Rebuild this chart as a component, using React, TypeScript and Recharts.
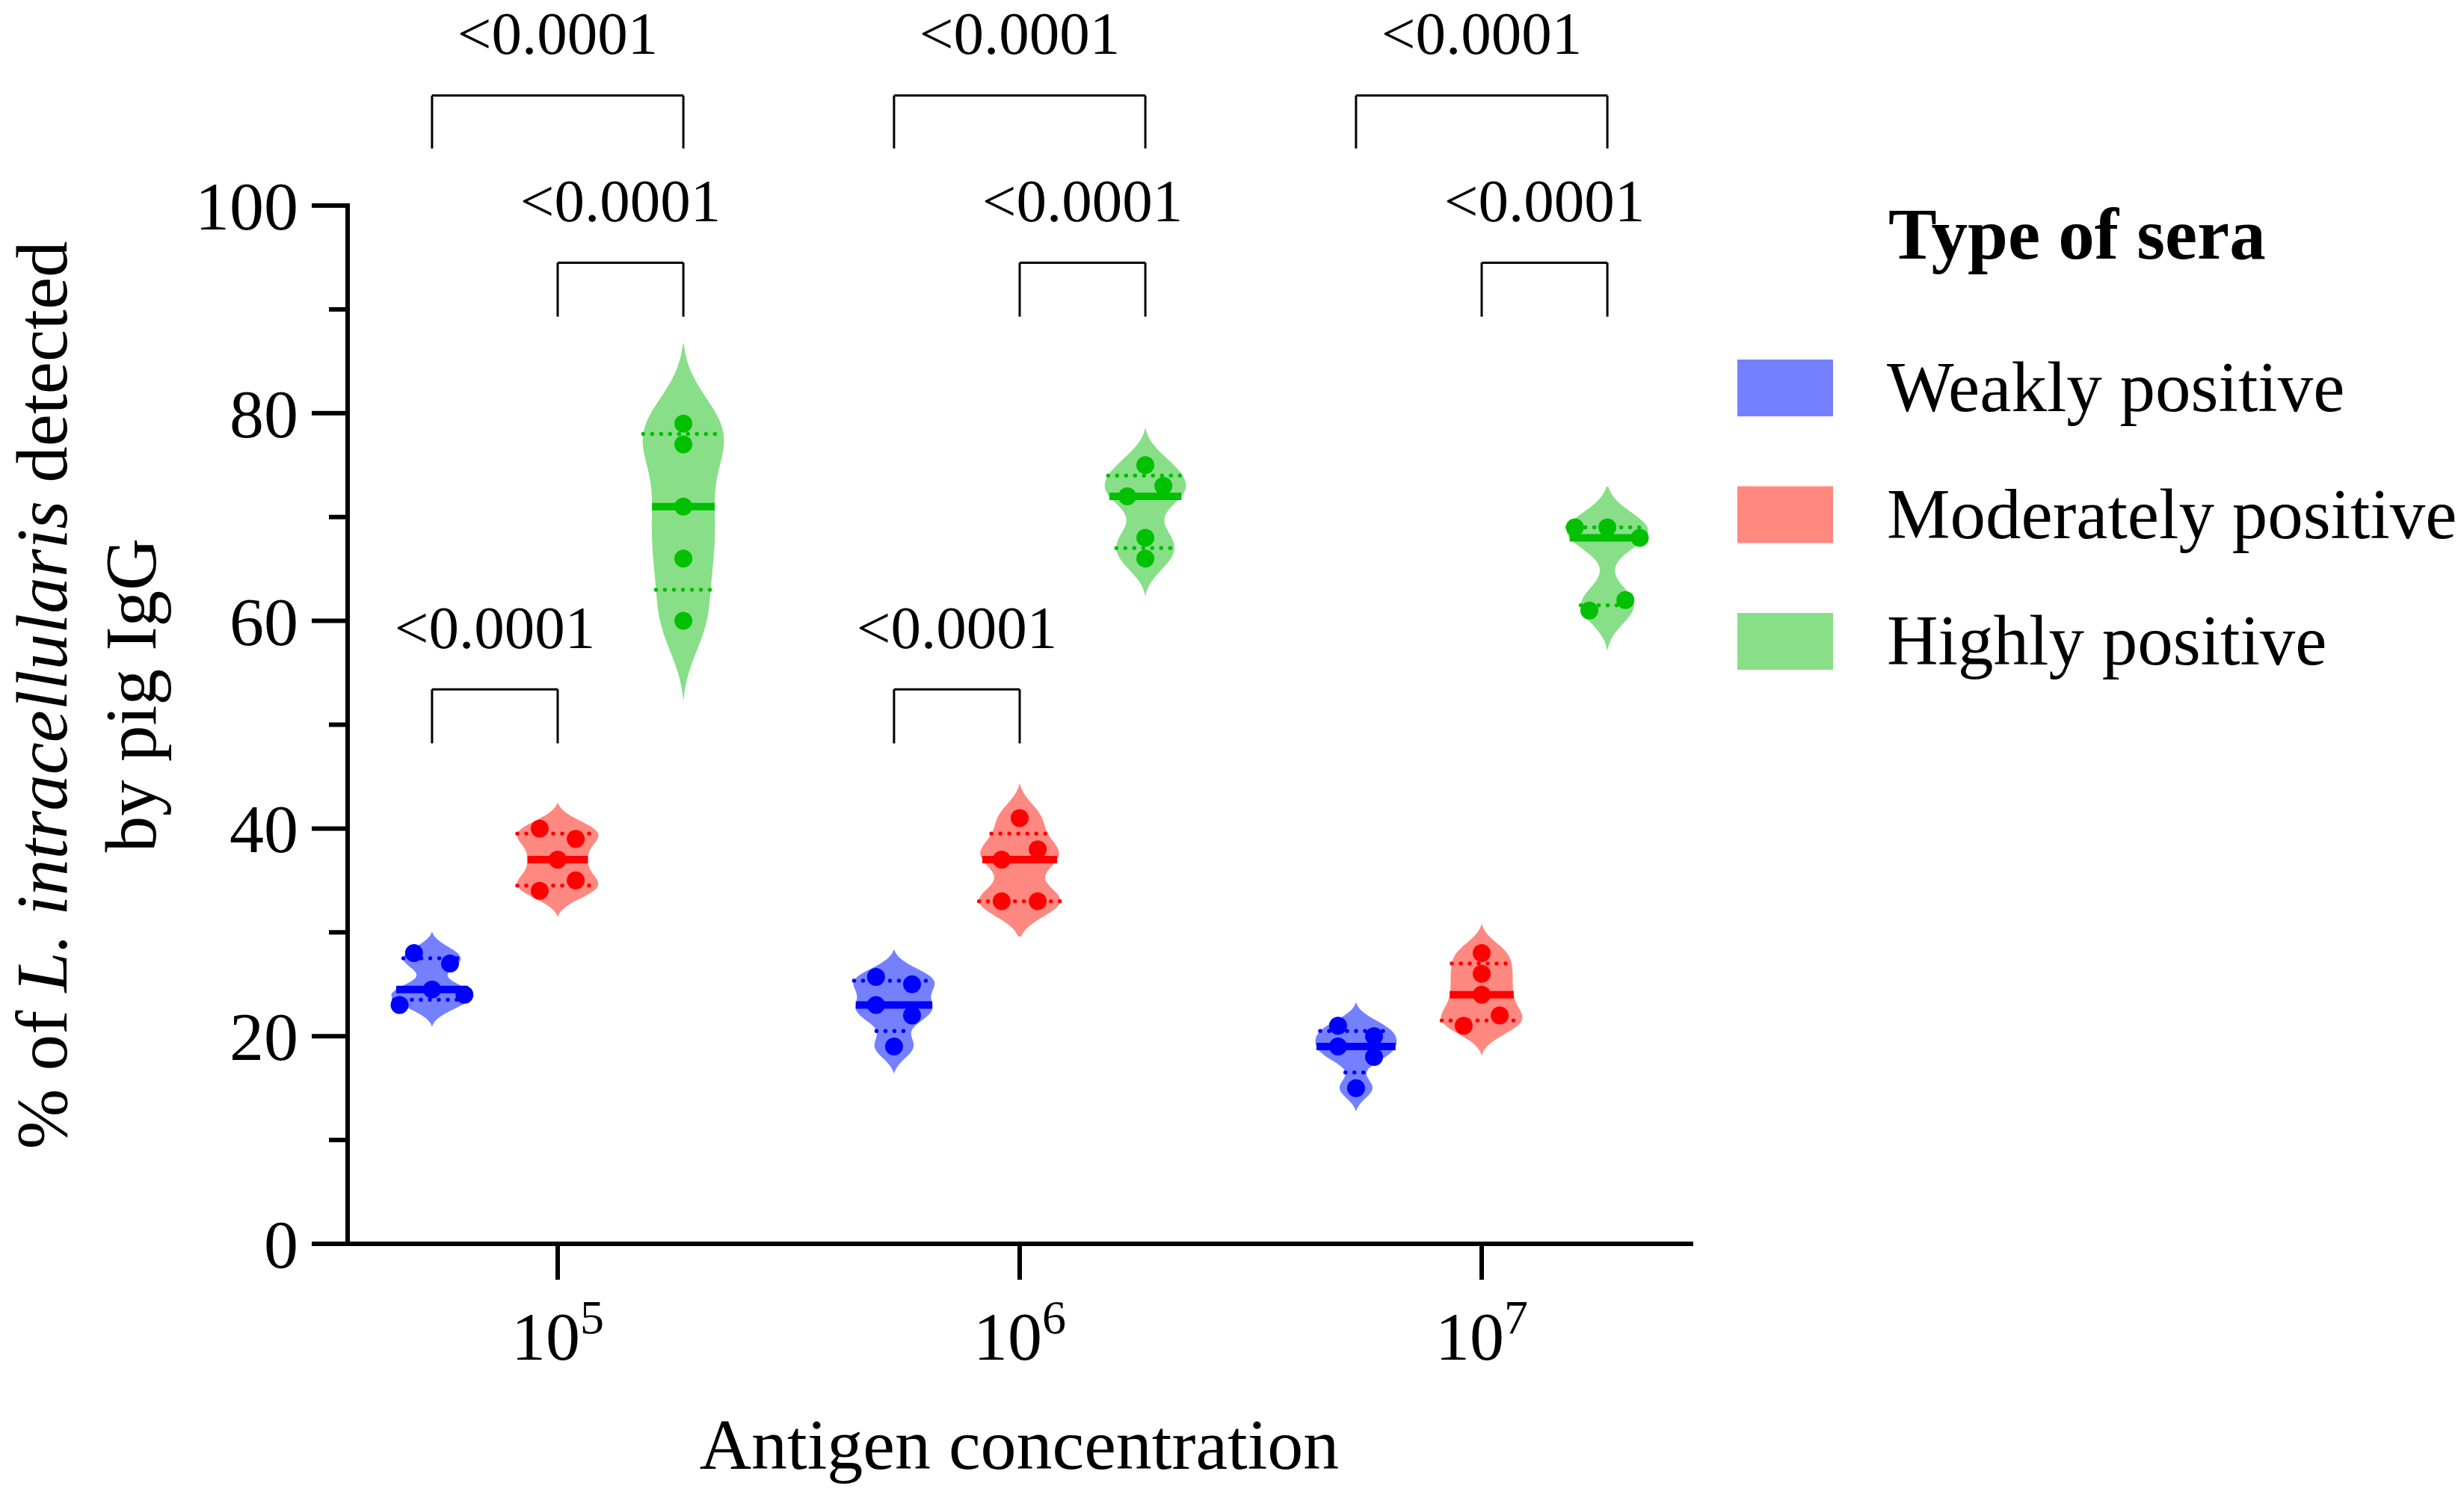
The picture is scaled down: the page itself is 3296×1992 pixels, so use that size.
import React from 'react'
import { ComposedChart, Scatter, XAxis, YAxis, ReferenceLine, ReferenceDot, Legend } from 'recharts'

// ---- data ----
const concentrationExponents = ['5', '6', '7']
const seraTypes = ['Weakly positive', 'Moderately positive', 'Highly positive']

// % detected per serum, one row per antigen concentration (10^5, 10^6, 10^7)
const weaklyPositive = [
  [28, 27, 24.5, 23, 24],
  [25.7, 25, 23, 22, 19],
  [21, 20, 19, 18, 15],
]
const moderatelyPositive = [
  [40, 39, 37, 34, 35],
  [41, 37, 38, 33, 33],
  [28, 26, 24, 21, 22],
]
const highlyPositive = [
  [79, 77, 71, 66, 60],
  [75, 72, 73, 68, 66],
  [69, 69, 68, 61, 62],
]

// multiple comparisons: concentration index, sera pair, p value
const comparisons = [
  { conc: 0, a: 0, b: 2, p: '<0.0001' },
  { conc: 0, a: 1, b: 2, p: '<0.0001' },
  { conc: 0, a: 0, b: 1, p: '<0.0001' },
  { conc: 1, a: 0, b: 2, p: '<0.0001' },
  { conc: 1, a: 1, b: 2, p: '<0.0001' },
  { conc: 1, a: 0, b: 1, p: '<0.0001' },
  { conc: 2, a: 0, b: 2, p: '<0.0001' },
  { conc: 2, a: 1, b: 2, p: '<0.0001' },
]

const yTicks = [0, 10, 20, 30, 40, 50, 60, 70, 80, 90, 100]

// ---- styling / layout ----
const seraValues = [weaklyPositive, moderatelyPositive, highlyPositive]
const dotColors = ['#0000ff', '#ff0000', '#00c000']
const violinColors = ['#7580ff', '#ff8880', '#88df88']

const FONT = '"Liberation Serif", "Times New Roman", Times, serif'
const CHART_W = 3296
const CHART_H = 1992
const PLOT_TOP = 275
const PLOT_BOTTOM = 1664
const PLOT_LEFT = 465
const PLOT_RIGHT = 2262
const XAXIS_H = 200

const GROUP_OFFSET = 0.272
const VIOLIN_HALF = 0.088
const JITTER = 0.039
const DOT_R = 12

// bracket heights in axis units, keyed by sera pair
const bracketLevels: Record<string, { bottom: number; top: number }> = {
  '0-2': { bottom: 105.5, top: 110.6 },
  '1-2': { bottom: 89.3, top: 94.5 },
  '0-1': { bottom: 48.2, top: 53.4 },
}
const LABEL_GAP = 4.0

// ---- stats helpers ----
const quantile = (vals: number[], p: number) => {
  const s = [...vals].sort((a, b) => a - b)
  const n = s.length
  const pos = Math.min(n - 1, Math.max(0, (n + 1) * p - 1))
  const lo = Math.floor(pos)
  const hi = Math.ceil(pos)
  return s[lo] + (s[hi] - s[lo]) * (pos - lo)
}

const makeViolin = (vals: number[]) => {
  const n = vals.length
  const mean = vals.reduce((a, v) => a + v, 0) / n
  const sd = Math.sqrt(vals.reduce((a, v) => a + (v - mean) ** 2, 0) / (n - 1))
  const h = 0.43 * sd
  const lo = Math.min(...vals) - 2.3 * h
  const hi = Math.max(...vals) + 2.3 * h
  const dens = (y: number) => vals.reduce((a, v) => a + Math.exp(-((y - v) ** 2) / (2 * h * h)), 0)
  const edge = Math.min(dens(lo), dens(hi))
  const steps = 120
  const ys = Array.from({ length: steps + 1 }, (_, i) => lo + ((hi - lo) * i) / steps)
  const ds = ys.map((y) => Math.max(0, dens(y) - edge))
  const dmax = Math.max(...ds)
  const halfWidth = (y: number) => (VIOLIN_HALF * Math.max(0, dens(y) - edge)) / dmax
  return { ys, halfWidth }
}

// spread overlapping points sideways, like a column scatter
const swarmOffsets = (vals: number[]) => {
  const order = vals.map((_, i) => i).sort((a, b) => vals[b] - vals[a])
  const groups: number[][] = []
  order.forEach((idx, k) => {
    if (k > 0 && vals[order[k - 1]] - vals[idx] < 1.8) groups[groups.length - 1].push(idx)
    else groups.push([idx])
  })
  const offsets = new Array(vals.length).fill(0)
  groups.forEach((g) => {
    const members = [...g].sort((a, b) => a - b)
    if (members.length % 2 === 1) {
      members.forEach((idx, j) => {
        if (j === 0) offsets[idx] = 0
        else offsets[idx] = (j % 2 === 1 ? -1 : 1) * Math.ceil(j / 2) * JITTER * 1.8
      })
    } else {
      members.forEach((idx, j) => {
        offsets[idx] = (j % 2 === 0 ? -1 : 1) * JITTER
      })
    }
  })
  return offsets
}

const groupX = (conc: number, sera: number) => conc + 1 + (sera - 1) * GROUP_OFFSET

const renderNothing = () => <g />

// ---- axis ticks / labels ----
const YTick = (props: any) => {
  const { x, y, payload } = props
  const major = payload.value % 20 === 0
  return (
    <g>
      <line x1={x - (major ? 48 : 25)} x2={x} y1={y} y2={y} stroke="#000" strokeWidth={6} />
      {major && (
        <text x={x - 66} y={y + 32} textAnchor="end" fontFamily={FONT} fontSize={92} fill="#000">
          {payload.value}
        </text>
      )}
    </g>
  )
}

const XTick = (props: any) => {
  const { x, y, payload } = props
  const exp = concentrationExponents[Math.round(payload.value) - 1]
  return (
    <text x={x} y={y + 107} textAnchor="middle" fontFamily={FONT} fill="#000">
      <tspan fontSize={92}>10</tspan>
      <tspan fontSize={64} dy={-35}>{exp}</tspan>
    </text>
  )
}

const YLabel = () => {
  const cy = 930
  return (
    <g fontFamily={FONT} fontSize={97} fill="#000">
      <text x={89} y={cy} textAnchor="middle" transform={`rotate(-90, 89, ${cy})`}>
        <tspan>% of </tspan>
        <tspan fontStyle="italic">L. intracellularis</tspan>
        <tspan> detected</tspan>
      </text>
      <text x={208} y={cy} textAnchor="middle" transform={`rotate(-90, 208, ${cy})`}>
        by pig IgG
      </text>
    </g>
  )
}

const XLabel = () => (
  <text x={(PLOT_LEFT + PLOT_RIGHT) / 2} y={1965} textAnchor="middle" fontFamily={FONT} fontSize={96} fill="#000">
    Antigen concentration
  </text>
)

const LEGEND_LEFT = 2290
const LEGEND_TOP = 240

const SeraLegend = () => (
  <svg width={CHART_W - LEGEND_LEFT} height={700} style={{ display: 'block', overflow: 'hidden' }}>
    <text x={236} y={106} fontFamily={FONT} fontSize={97} fontWeight="bold" fill="#000">
      Type of sera
    </text>
    {seraTypes.map((name, i) => (
      <g key={name}>
        <rect x={34} y={241 + i * 169.5} width={128} height={76} fill={violinColors[i]} />
        <text x={234} y={310 + i * 169.5} fontFamily={FONT} fontSize={95} fill="#000">
          {name}
        </text>
      </g>
    ))}
  </svg>
)

const App = () => {
  const violins: { key: string; points: { x: number; y: number }[]; color: string }[] = []
  const medianLines: { key: string; points: { x: number; y: number }[]; color: string }[] = []
  const quartileLines: { key: string; points: { x: number; y: number }[]; color: string }[] = []
  const dots: { x: number; y: number }[][] = [[], [], []]

  seraValues.forEach((rows, s) => {
    rows.forEach((vals, c) => {
      const cx = groupX(c, s)
      const v = makeViolin(vals)
      const left = v.ys.map((y) => ({ x: cx - v.halfWidth(y), y }))
      const right = [...v.ys].reverse().map((y) => ({ x: cx + v.halfWidth(y), y }))
      violins.push({
        key: `v-${s}-${c}`,
        points: [{ x: cx, y: v.ys[0] }, ...left, { x: cx, y: v.ys[v.ys.length - 1] }, ...right, { x: cx, y: v.ys[0] }],
        color: violinColors[s],
      })
      const med = quantile(vals, 0.5)
      const wm = v.halfWidth(med)
      medianLines.push({ key: `m-${s}-${c}`, points: [{ x: cx - wm, y: med }, { x: cx + wm, y: med }], color: dotColors[s] })
      ;[0.25, 0.75].forEach((p) => {
        const q = quantile(vals, p)
        const wq = v.halfWidth(q)
        quartileLines.push({ key: `q-${s}-${c}-${p}`, points: [{ x: cx - wq, y: q }, { x: cx + wq, y: q }], color: dotColors[s] })
      })
      const offs = swarmOffsets(vals)
      vals.forEach((y, i) => dots[s].push({ x: cx + offs[i], y }))
    })
  })

  const xDomainMin = 1 - (746 - PLOT_LEFT) / 618
  const xDomainMax = 3 + (PLOT_RIGHT - 1982) / 618

  return (
    <div style={{ position: 'absolute', left: 0, top: 0, width: CHART_W, height: CHART_H, background: '#fff' }}>
      <ComposedChart
        width={CHART_W}
        height={CHART_H}
        margin={{ top: PLOT_TOP, right: CHART_W - PLOT_RIGHT, bottom: CHART_H - PLOT_BOTTOM - XAXIS_H, left: 0 }}
      >
        <XAxis
          type="number"
          dataKey="x"
          domain={[xDomainMin, xDomainMax]}
          ticks={[1, 2, 3]}
          height={XAXIS_H}
          axisLine={{ stroke: '#000', strokeWidth: 6, strokeLinecap: 'square' }}
          tickLine={{ stroke: '#000', strokeWidth: 6 }}
          tickSize={48}
          tickMargin={0}
          tick={<XTick />}
          label={XLabel}
        />
        <YAxis
          type="number"
          dataKey="y"
          domain={[0, 100]}
          ticks={yTicks}
          interval={0}
          width={PLOT_LEFT}
          axisLine={{ stroke: '#000', strokeWidth: 6, strokeLinecap: 'square' }}
          tickLine={false}
          tickSize={0}
          tickMargin={0}
          tick={<YTick />}
          label={YLabel}
        />
        <Legend
          layout="vertical"
          align="center"
          verticalAlign="middle"
          wrapperStyle={{ left: LEGEND_LEFT, top: LEGEND_TOP, width: CHART_W - LEGEND_LEFT, height: 700 }}
          content={SeraLegend}
        />

        {violins.map((v) => (
          <Scatter
            key={v.key}
            data={v.points}
            line={{ fill: v.color, stroke: 'none' }}
            shape={renderNothing}
            legendType="none"
            isAnimationActive={false}
          />
        ))}
        {quartileLines.map((q) => (
          <Scatter
            key={q.key}
            data={q.points}
            line={{ fill: 'none', stroke: q.color, strokeWidth: 5.5, strokeDasharray: '0 12', strokeLinecap: 'round' }}
            shape={renderNothing}
            legendType="none"
            isAnimationActive={false}
          />
        ))}
        {medianLines.map((m) => (
          <Scatter
            key={m.key}
            data={m.points}
            line={{ fill: 'none', stroke: m.color, strokeWidth: 10 }}
            shape={renderNothing}
            legendType="none"
            isAnimationActive={false}
          />
        ))}
        {dots.map((d, s) => (
          <Scatter
            key={`dots-${s}`}
            name={seraTypes[s]}
            data={d}
            fill={dotColors[s]}
            shape={(p: any) => <circle cx={p.cx} cy={p.cy} r={DOT_R} fill={dotColors[s]} />}
            isAnimationActive={false}
          />
        ))}

        {comparisons.map((cmp, i) => {
          const lvl = bracketLevels[`${cmp.a}-${cmp.b}`]
          const x1 = groupX(cmp.conc, cmp.a)
          const x2 = groupX(cmp.conc, cmp.b)
          const st = { stroke: '#000', strokeWidth: 3 }
          return (
            <React.Fragment key={`cmp-${i}`}>
              <ReferenceLine segment={[{ x: x1, y: lvl.bottom }, { x: x1, y: lvl.top }]} ifOverflow="visible" {...st} />
              <ReferenceLine segment={[{ x: x1, y: lvl.top }, { x: x2, y: lvl.top }]} ifOverflow="visible" {...st} />
              <ReferenceLine segment={[{ x: x2, y: lvl.top }, { x: x2, y: lvl.bottom }]} ifOverflow="visible" {...st} />
              <ReferenceDot
                x={(x1 + x2) / 2}
                y={lvl.top + LABEL_GAP}
                r={0}
                ifOverflow="visible"
                shape={(p: any) => (
                  <text x={p.cx} y={p.cy} textAnchor="middle" fontFamily={FONT} fontSize={81} fill="#000">
                    {cmp.p}
                  </text>
                )}
              />
            </React.Fragment>
          )
        })}
      </ComposedChart>
    </div>
  )
}

export default App
